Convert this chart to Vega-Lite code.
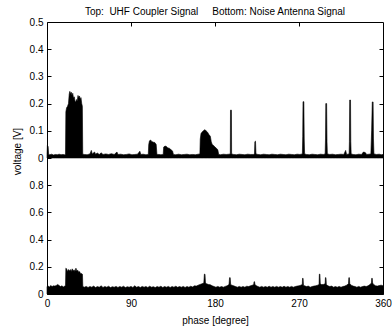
{
"$schema": "https://vega.github.io/schema/vega-lite/v6.json",
"width": 336, "height": 272,
"autosize": "none",
"padding": {"left": 47, "top": 22, "right": 9, "bottom": 35},
"background": "white",
"title": {"text": "Top:\u00a0 UHF Coupler Signal\u00a0\u00a0\u00a0\u00a0 Bottom: Noise Antenna Signal", "fontSize": 10, "font": "Liberation Sans", "fontWeight": "normal", "color": "black", "offset": 0, "anchor": "middle"},
"config": {
  "view": {"stroke": "black", "strokeWidth": 1},
  "axis": {"labelFont": "Liberation Sans", "labelFontSize": 10, "labelColor": "black", "titleFont": "Liberation Sans", "titleFontSize": 10, "titleColor": "black", "titleFontWeight": "normal", "domain": false, "tickColor": "black", "tickSize": -4, "grid": false, "labelFlush": false}
},
"datasets": {
"top": [
{"p":0,"v":0.012},{"p":0.4,"v":0.045},{"p":1.2,"v":0.042},{"p":1.8,"v":0.013},{"p":3,"v":0.012},{"p":5,"v":0.014},{"p":7,"v":0.011},{"p":9,"v":0.013},{"p":11,"v":0.012},{"p":13,"v":0.014},{"p":15,"v":0.012},{"p":17,"v":0.013},{"p":19,"v":0.012},{"p":19.8,"v":0.014},
{"p":20.2,"v":0.17},{"p":21,"v":0.185},{"p":22,"v":0.19},{"p":23,"v":0.2},{"p":23.8,"v":0.235},{"p":24.5,"v":0.245},{"p":25.3,"v":0.235},{"p":26,"v":0.242},{"p":26.8,"v":0.23},{"p":27.6,"v":0.238},{"p":28.4,"v":0.22},{"p":29.2,"v":0.225},{"p":30,"v":0.21},{"p":30.8,"v":0.205},{"p":31.6,"v":0.215},{"p":32.4,"v":0.21},{"p":33.2,"v":0.23},{"p":34,"v":0.222},{"p":34.8,"v":0.228},{"p":35.6,"v":0.215},{"p":36.4,"v":0.222},{"p":37.2,"v":0.2},{"p":37.9,"v":0.19},{"p":38.3,"v":0.014},
{"p":40,"v":0.013},{"p":43,"v":0.012},{"p":46,"v":0.015},{"p":47.5,"v":0.028},{"p":48.5,"v":0.015},{"p":51,"v":0.022},{"p":52,"v":0.014},{"p":54,"v":0.018},{"p":56,"v":0.013},{"p":58,"v":0.019},{"p":60,"v":0.013},{"p":63,"v":0.015},{"p":66,"v":0.013},{"p":69,"v":0.016},{"p":72,"v":0.013},{"p":75,"v":0.022},{"p":76,"v":0.013},{"p":79,"v":0.014},{"p":82,"v":0.012},{"p":85,"v":0.013},{"p":88,"v":0.015},{"p":91,"v":0.012},{"p":94,"v":0.013},{"p":97,"v":0.014},{"p":99.5,"v":0.025},{"p":100.5,"v":0.013},{"p":103,"v":0.014},{"p":106,"v":0.012},{"p":108.5,"v":0.013},
{"p":109,"v":0.05},{"p":109.8,"v":0.063},{"p":111,"v":0.066},{"p":112.5,"v":0.06},{"p":114,"v":0.058},{"p":115.5,"v":0.057},{"p":117,"v":0.05},{"p":117.8,"v":0.013},{"p":120,"v":0.013},{"p":122,"v":0.012},{"p":124.5,"v":0.013},
{"p":125,"v":0.04},{"p":126.5,"v":0.044},{"p":128,"v":0.042},{"p":129.5,"v":0.037},{"p":131,"v":0.036},{"p":133,"v":0.03},{"p":134.5,"v":0.026},{"p":135.5,"v":0.013},{"p":138,"v":0.012},{"p":141,"v":0.014},{"p":144,"v":0.012},{"p":147,"v":0.013},{"p":150,"v":0.014},{"p":153,"v":0.012},{"p":156,"v":0.013},{"p":159,"v":0.012},{"p":162,"v":0.014},{"p":163.8,"v":0.015},
{"p":164.2,"v":0.07},{"p":165,"v":0.09},{"p":166,"v":0.095},{"p":167.5,"v":0.1},{"p":169,"v":0.104},{"p":170.5,"v":0.1},{"p":172,"v":0.095},{"p":173.5,"v":0.086},{"p":175,"v":0.08},{"p":176,"v":0.06},{"p":177,"v":0.05},{"p":178.5,"v":0.046},{"p":180,"v":0.04},{"p":181.5,"v":0.036},{"p":183,"v":0.03},{"p":184,"v":0.013},
{"p":186,"v":0.012},{"p":189,"v":0.014},{"p":192,"v":0.013},{"p":195,"v":0.014},{"p":196.4,"v":0.015},{"p":196.6,"v":0.176},{"p":197.6,"v":0.176},{"p":197.8,"v":0.015},{"p":200,"v":0.013},{"p":203,"v":0.012},{"p":206,"v":0.014},{"p":209,"v":0.013},{"p":212,"v":0.012},{"p":215,"v":0.014},{"p":218,"v":0.013},{"p":221,"v":0.013},
{"p":222.3,"v":0.015},{"p":222.7,"v":0.06},{"p":223.4,"v":0.062},{"p":223.9,"v":0.015},{"p":226,"v":0.013},{"p":229,"v":0.012},{"p":232,"v":0.014},{"p":235,"v":0.013},{"p":238,"v":0.012},{"p":241,"v":0.014},{"p":244,"v":0.013},{"p":247,"v":0.012},{"p":250,"v":0.014},{"p":253,"v":0.013},{"p":256,"v":0.012},{"p":259,"v":0.014},{"p":262,"v":0.013},{"p":265,"v":0.012},{"p":268,"v":0.014},{"p":271,"v":0.013},
{"p":273.6,"v":0.015},{"p":274,"v":0.08},{"p":274.3,"v":0.207},{"p":275.2,"v":0.207},{"p":275.6,"v":0.07},{"p":276,"v":0.015},{"p":278,"v":0.013},{"p":281,"v":0.012},{"p":284,"v":0.014},{"p":287,"v":0.013},{"p":290,"v":0.012},{"p":293,"v":0.014},{"p":296,"v":0.013},
{"p":298,"v":0.015},{"p":298.4,"v":0.07},{"p":298.7,"v":0.2},{"p":299.6,"v":0.2},{"p":300,"v":0.06},{"p":300.4,"v":0.015},{"p":303,"v":0.013},{"p":306,"v":0.014},{"p":309,"v":0.012},{"p":312,"v":0.013},{"p":315,"v":0.014},{"p":318,"v":0.013},{"p":320,"v":0.028},{"p":321,"v":0.013},
{"p":323.7,"v":0.015},{"p":324,"v":0.06},{"p":324.3,"v":0.213},{"p":325.2,"v":0.213},{"p":325.5,"v":0.06},{"p":325.9,"v":0.015},{"p":328,"v":0.013},{"p":331,"v":0.012},{"p":334,"v":0.014},{"p":337,"v":0.013},{"p":339,"v":0.022},{"p":341,"v":0.02},{"p":342.5,"v":0.013},{"p":345,"v":0.014},
{"p":347,"v":0.015},{"p":347.8,"v":0.1},{"p":348.5,"v":0.206},{"p":349.4,"v":0.206},{"p":349.8,"v":0.07},{"p":350.3,"v":0.015},{"p":353,"v":0.013},{"p":356,"v":0.014},{"p":358,"v":0.012},{"p":360,"v":0.013}
],
"bot": [
{"p":0,"v":0.055},{"p":1,"v":0.06},{"p":2.5,"v":0.052},{"p":4,"v":0.062},{"p":5.5,"v":0.055},{"p":7,"v":0.06},{"p":8.5,"v":0.058},{"p":10,"v":0.063},{"p":11.5,"v":0.07},{"p":13,"v":0.062},{"p":14.5,"v":0.055},{"p":16,"v":0.06},{"p":17.5,"v":0.052},{"p":19,"v":0.058},{"p":19.8,"v":0.06},
{"p":20.2,"v":0.19},{"p":21,"v":0.185},{"p":22,"v":0.165},{"p":23,"v":0.18},{"p":24,"v":0.17},{"p":25,"v":0.18},{"p":26,"v":0.165},{"p":27,"v":0.185},{"p":28,"v":0.17},{"p":29,"v":0.178},{"p":30,"v":0.165},{"p":31,"v":0.19},{"p":32,"v":0.17},{"p":33,"v":0.175},{"p":34,"v":0.16},{"p":35,"v":0.165},{"p":35.8,"v":0.15},{"p":37,"v":0.15},{"p":38,"v":0.145},{"p":38.4,"v":0.055},
{"p":40,"v":0.05},{"p":42,"v":0.056},{"p":44,"v":0.048},{"p":46,"v":0.055},{"p":48,"v":0.05},{"p":50,"v":0.058},{"p":52,"v":0.047},{"p":54,"v":0.055},{"p":56,"v":0.05},{"p":58,"v":0.06},{"p":60,"v":0.048},{"p":62,"v":0.055},{"p":64,"v":0.05},{"p":66,"v":0.057},{"p":68,"v":0.047},{"p":70,"v":0.054},{"p":72,"v":0.05},{"p":74,"v":0.056},{"p":76,"v":0.048},{"p":78,"v":0.055},{"p":80,"v":0.05},{"p":82,"v":0.057},{"p":84,"v":0.047},{"p":86,"v":0.054},{"p":88,"v":0.05},{"p":90,"v":0.056},{"p":92,"v":0.048},{"p":94,"v":0.06},{"p":96,"v":0.05},{"p":98,"v":0.055},{"p":100,"v":0.048},{"p":102,"v":0.056},{"p":104,"v":0.05},{"p":106,"v":0.055},{"p":108,"v":0.048},{"p":110,"v":0.057},{"p":112,"v":0.05},{"p":114,"v":0.054},{"p":116,"v":0.047},{"p":118,"v":0.055},{"p":120,"v":0.05},{"p":122,"v":0.057},{"p":124,"v":0.048},{"p":126,"v":0.055},{"p":128,"v":0.05},{"p":130,"v":0.056},{"p":132,"v":0.048},{"p":134,"v":0.055},{"p":136,"v":0.05},{"p":138,"v":0.057},{"p":140,"v":0.049},{"p":142,"v":0.055},{"p":144,"v":0.05},{"p":146,"v":0.056},{"p":148,"v":0.048},{"p":150,"v":0.055},{"p":152,"v":0.05},{"p":154,"v":0.057},{"p":156,"v":0.052},{"p":158,"v":0.06},{"p":160,"v":0.058},{"p":162,"v":0.065},{"p":164,"v":0.07},{"p":166,"v":0.075},{"p":168,"v":0.08},
{"p":168.6,"v":0.146},{"p":169.3,"v":0.146},{"p":169.8,"v":0.08},{"p":171,"v":0.075},{"p":173,"v":0.07},{"p":175,"v":0.068},{"p":177,"v":0.06},{"p":179,"v":0.055},{"p":181,"v":0.05},{"p":183,"v":0.056},{"p":185,"v":0.05},{"p":187,"v":0.055},{"p":189,"v":0.05},{"p":191,"v":0.056},{"p":193,"v":0.06},{"p":195,"v":0.07},
{"p":195.6,"v":0.12},{"p":196.3,"v":0.12},{"p":196.8,"v":0.07},{"p":198,"v":0.065},{"p":200,"v":0.06},{"p":202,"v":0.055},{"p":204,"v":0.05},{"p":206,"v":0.056},{"p":208,"v":0.05},{"p":210,"v":0.055},{"p":212,"v":0.05},{"p":214,"v":0.057},{"p":216,"v":0.055},{"p":218,"v":0.06},{"p":220,"v":0.065},{"p":221.5,"v":0.07},
{"p":221.8,"v":0.09},{"p":222.4,"v":0.09},{"p":222.8,"v":0.07},{"p":224,"v":0.062},{"p":226,"v":0.055},{"p":228,"v":0.05},{"p":230,"v":0.056},{"p":232,"v":0.05},{"p":234,"v":0.055},{"p":236,"v":0.05},{"p":238,"v":0.057},{"p":240,"v":0.05},{"p":242,"v":0.055},{"p":244,"v":0.05},{"p":246,"v":0.056},{"p":248,"v":0.05},{"p":250,"v":0.055},{"p":252,"v":0.05},{"p":254,"v":0.057},{"p":256,"v":0.05},{"p":258,"v":0.055},{"p":260,"v":0.05},{"p":262,"v":0.056},{"p":264,"v":0.05},{"p":266,"v":0.055},{"p":268,"v":0.058},{"p":270,"v":0.06},{"p":272,"v":0.065},{"p":273.5,"v":0.07},
{"p":273.8,"v":0.115},{"p":274.4,"v":0.115},{"p":274.8,"v":0.065},{"p":276,"v":0.06},{"p":278,"v":0.055},{"p":280,"v":0.058},{"p":282,"v":0.05},{"p":284,"v":0.055},{"p":286,"v":0.058},{"p":288,"v":0.06},{"p":290,"v":0.065},{"p":291.5,"v":0.07},
{"p":291.8,"v":0.146},{"p":292.4,"v":0.146},{"p":292.8,"v":0.075},{"p":294,"v":0.07},{"p":296,"v":0.07},{"p":298,"v":0.075},{"p":298.3,"v":0.12},{"p":298.9,"v":0.12},{"p":299.3,"v":0.07},{"p":301,"v":0.06},{"p":303,"v":0.055},{"p":305,"v":0.058},{"p":307,"v":0.05},{"p":309,"v":0.055},{"p":311,"v":0.05},{"p":313,"v":0.056},{"p":315,"v":0.05},{"p":317,"v":0.055},{"p":319,"v":0.058},{"p":321,"v":0.065},{"p":323,"v":0.075},
{"p":323.4,"v":0.12},{"p":324,"v":0.12},{"p":324.4,"v":0.075},{"p":326,"v":0.065},{"p":328,"v":0.058},{"p":330,"v":0.055},{"p":332,"v":0.05},{"p":334,"v":0.056},{"p":336,"v":0.05},{"p":338,"v":0.055},{"p":340,"v":0.058},{"p":342,"v":0.055},{"p":344,"v":0.06},{"p":346,"v":0.07},{"p":347.6,"v":0.08},
{"p":347.9,"v":0.115},{"p":348.5,"v":0.115},{"p":348.9,"v":0.08},{"p":350,"v":0.07},{"p":352,"v":0.06},{"p":354,"v":0.058},{"p":356,"v":0.062},{"p":358,"v":0.065},{"p":360,"v":0.06}
]
},
"layer": [
{
"data": {"name": "top"},
"mark": {"type": "area", "color": "black", "stroke": "black", "strokeWidth": 0.6},
"encoding": {
"x": {"field": "p", "type": "quantitative", "scale": {"domain": [0, 360], "nice": false}, "axis": {"orient": "top", "labels": false, "values": [90, 180, 270], "title": null}},
"y": {"field": "v", "type": "quantitative", "scale": {"domain": [0, 0.5], "range": [136, 0], "nice": false}, "axis": {"orient": "left", "values": [0, 0.1, 0.2, 0.3, 0.4, 0.5], "format": "~g", "labelPadding": 8, "title": "voltage [V]", "titleX": -30, "titleY": 129, "titleAngle": -90, "titleBaseline": "middle", "titleAlign": "center"}}
}
},
{
"data": {"name": "bot"},
"mark": {"type": "area", "color": "black", "stroke": "black", "strokeWidth": 0.6},
"encoding": {
"x": {"field": "p", "type": "quantitative", "scale": {"domain": [0, 360], "nice": false}, "axis": {"orient": "bottom", "values": [0, 90, 180, 270, 360], "labelPadding": 8, "title": "phase [degree]", "titleY": 26, "titleBaseline": "middle"}},
"y": {"field": "v", "type": "quantitative", "scale": {"domain": [0, 1], "range": [272, 136], "nice": false}, "axis": {"orient": "left", "values": [0, 0.2, 0.4, 0.6, 0.8], "format": "~g", "labelPadding": 8, "title": null}}
}
},
{
"data": {"name": "top"},
"mark": {"type": "line", "opacity": 0},
"encoding": {
"x": {"field": "p", "type": "quantitative", "axis": null},
"y": {"field": "v", "type": "quantitative", "scale": {"domain": [0, 0.5], "range": [136, 0], "nice": false}, "axis": {"orient": "right", "values": [0.1, 0.2, 0.3, 0.4], "labels": false, "title": null}}
}
},
{
"data": {"name": "bot"},
"mark": {"type": "line", "opacity": 0},
"encoding": {
"x": {"field": "p", "type": "quantitative", "axis": null},
"y": {"field": "v", "type": "quantitative", "scale": {"domain": [0, 1], "range": [272, 136], "nice": false}, "axis": {"orient": "right", "values": [0.2, 0.4, 0.6, 0.8], "labels": false, "title": null}}
}
}
],
"resolve": {"scale": {"y": "independent"}, "axis": {"x": "independent", "y": "independent"}}
}
